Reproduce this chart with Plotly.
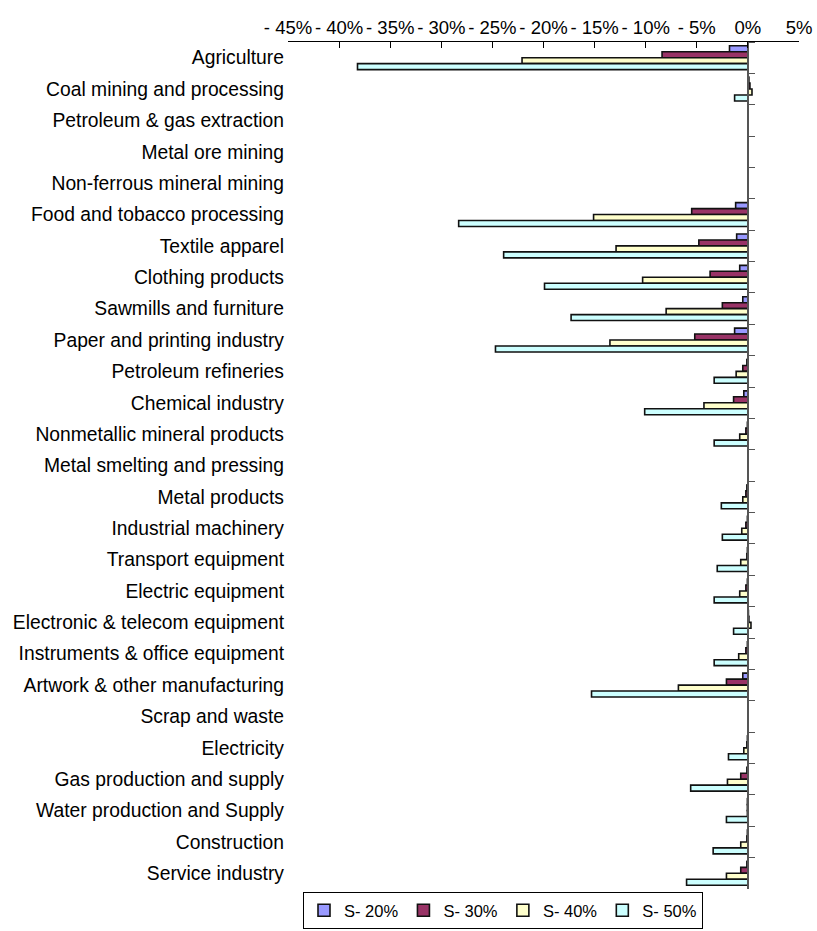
import plotly.graph_objects as go

# Sectors, top to bottom
sectors = [
    "Agriculture", "Coal mining and processing", "Petroleum & gas extraction",
    "Metal ore mining", "Non-ferrous mineral mining", "Food and tobacco processing",
    "Textile apparel", "Clothing products", "Sawmills and furniture",
    "Paper and printing industry", "Petroleum refineries", "Chemical industry",
    "Nonmetallic mineral products", "Metal smelting and pressing", "Metal products",
    "Industrial machinery", "Transport equipment", "Electric equipment",
    "Electronic & telecom equipment", "Instruments & office equipment",
    "Artwork & other manufacturing", "Scrap and waste", "Electricity",
    "Gas production and supply", "Water production and Supply", "Construction",
    "Service industry",
]

# Output change (%) under each scenario
s20 = [-1.8, 0.1, 0, 0, 0, -1.2, -1.1, -0.8, -0.5, -1.3, -0.1, -0.4, -0.05, 0,
       -0.1, -0.05, -0.05, -0.05, 0.05, -0.05, -0.5, 0, -0.05, -0.1, -0.05, -0.05, -0.1]
s30 = [-8.4, 0.2, 0, 0, 0, -5.5, -4.8, -3.7, -2.5, -5.2, -0.5, -1.4, -0.2, 0,
       -0.2, -0.2, -0.1, -0.2, 0.1, -0.2, -2.1, 0, -0.1, -0.7, -0.05, -0.1, -0.7]
s40 = [-22.1, 0.4, 0, 0, 0, -15.1, -12.9, -10.3, -8.0, -13.5, -1.15, -4.3, -0.8, 0,
       -0.5, -0.6, -0.7, -0.8, 0.3, -0.9, -6.8, 0, -0.4, -2.0, -0.05, -0.7, -2.1]
s50 = [-38.2, -1.3, 0, 0, 0, -28.3, -23.9, -19.9, -17.3, -24.7, -3.3, -10.1, -3.3, 0,
       -2.6, -2.5, -3.0, -3.3, -1.4, -3.3, -15.3, 0, -1.9, -5.6, -2.1, -3.4, -6.0]

series_names = ["S- 20%", "S- 30%", "S- 40%", "S- 50%"]
series_colors = ["#9999FF", "#993366", "#FFFFCC", "#CCFFFF"]
series_values = [s20, s30, s40, s50]

x_ticks = list(range(-45, 10, 5))
x_ticktext = [("- %d%%" % abs(v)) if v < 0 else ("%d%%" % v) for v in x_ticks]

FONT = "Liberation Sans, Arial, sans-serif"

fig = go.Figure()
for name, color, vals in zip(series_names, series_colors, series_values):
    fig.add_trace(go.Bar(
        y=sectors, x=vals, name=name, orientation="h",
        marker=dict(color=color, line=dict(color="#111111", width=1.6)),
    ))

# invisible trace carrying the category axis drawn along x = 0
fig.add_trace(go.Scatter(
    x=[0] * len(sectors), y=sectors, yaxis="y2", mode="markers",
    marker=dict(opacity=0), showlegend=False, hoverinfo="skip",
))

fig.update_layout(
    width=817, height=931,
    margin=dict(l=288, r=18, t=42, b=42, autoexpand=False),
    paper_bgcolor="white", plot_bgcolor="white",
    font=dict(family=FONT, size=18, color="#000000"),
    barmode="group", bargap=0.24, bargroupgap=0,
    xaxis=dict(
        side="top", range=[-45, 5], tickvals=x_ticks, ticktext=x_ticktext,
        ticks="inside", ticklen=6, tickcolor="#000000", tickwidth=1,
        showline=True, linecolor="#000000", linewidth=1,
        showgrid=False, zeroline=False, automargin=False,
        tickfont=dict(family=FONT, size=18.5),
    ),
    yaxis=dict(
        type="category", categoryorder="array", categoryarray=sectors,
        range=[len(sectors) - 0.5, -0.5], automargin=False,
        showline=False, ticks="", showgrid=False, zeroline=False,
        tickfont=dict(family=FONT, size=19.3), ticklabelstandoff=3,
    ),
    yaxis2=dict(
        type="category", categoryorder="array", categoryarray=sectors,
        range=[len(sectors) - 0.5, -0.5], automargin=False,
        overlaying="y", anchor="free", position=0.9, side="right",
        showline=True, linecolor="#555555", linewidth=1.5,
        ticks="outside", ticklen=6, tickcolor="#555555", tickson="boundaries",
        showticklabels=False, showgrid=False, zeroline=False,
    ),
    legend=dict(
        orientation="h", xref="container", yref="container",
        x=503 / 817, xanchor="center", y=1 - 929 / 931, yanchor="bottom",
        bordercolor="#000000", borderwidth=1, bgcolor="white",
        font=dict(family=FONT, size=16.5), itemwidth=30,
        tracegroupgap=0,
    ),
    showlegend=True,
)

fig.write_html("out.html")
